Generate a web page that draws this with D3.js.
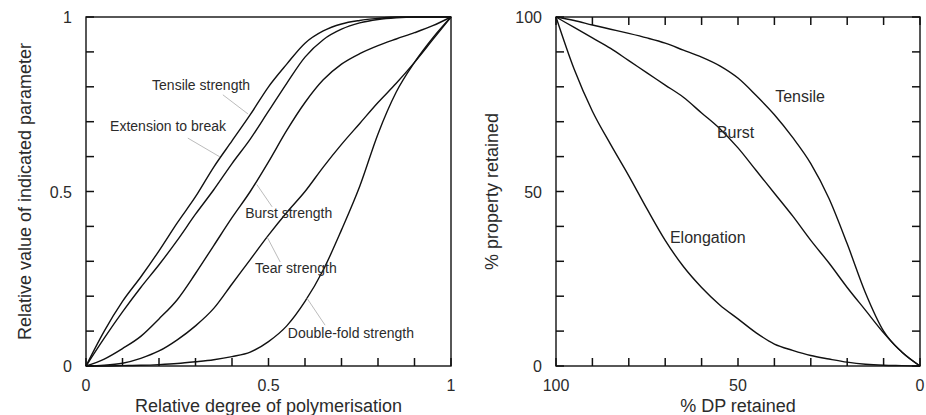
<!DOCTYPE html>
<html>
<head>
<meta charset="utf-8">
<script src="https://cdn.jsdelivr.net/npm/d3@7"></script>
<style>
  body { margin: 0; background: #fff; }
  svg { display: block; font-family: "Liberation Sans", Arial, sans-serif; }
</style>
</head>
<body>
<div id="chart"></div>
<script>
// left panel: relative DP vs relative property value
const relDP = [0, 0.05, 0.1, 0.15, 0.2, 0.25, 0.3, 0.35, 0.4, 0.45, 0.5, 0.55, 0.6, 0.65, 0.7, 0.75, 0.8, 0.85, 0.9, 0.95, 1];
const tensileStrength = [0, 0.10, 0.185, 0.255, 0.33, 0.41, 0.485, 0.57, 0.645, 0.72, 0.80, 0.865, 0.925, 0.96, 0.98, 0.99, 0.996, 1, 1, 1, 1];
const extensionToBreak = [0, 0.08, 0.155, 0.225, 0.29, 0.36, 0.435, 0.505, 0.58, 0.65, 0.73, 0.81, 0.885, 0.935, 0.965, 0.983, 0.993, 0.998, 1, 1, 1];
const burstStrength = [0, 0.02, 0.05, 0.085, 0.135, 0.19, 0.265, 0.345, 0.425, 0.50, 0.585, 0.675, 0.755, 0.82, 0.865, 0.895, 0.918, 0.937, 0.955, 0.975, 1];
const tearStrength = [0, 0.002, 0.008, 0.022, 0.043, 0.075, 0.115, 0.165, 0.235, 0.305, 0.375, 0.44, 0.50, 0.57, 0.635, 0.695, 0.755, 0.81, 0.87, 0.935, 1];
const doubleFold = [0, 0, 0.001, 0.002, 0.004, 0.007, 0.012, 0.018, 0.027, 0.04, 0.07, 0.115, 0.185, 0.275, 0.39, 0.515, 0.665, 0.785, 0.87, 0.94, 1];
const leftTicks = [0, 0.1, 0.2, 0.3, 0.4, 0.5, 0.6, 0.7, 0.8, 0.9, 1];
const leftTickLabels = [0, 0.5, 1];

// right panel: % DP retained vs % property retained
const dpRetained = [100, 95, 90, 85, 80, 75, 70, 65, 60, 55, 50, 45, 40, 35, 30, 25, 20, 15, 10, 5, 0];
const tensileRetained = [100, 99, 97.7, 96.5, 95.3, 94, 92.5, 90.5, 88.5, 86, 82.5, 77.5, 72, 65.5, 58, 48, 35, 21, 10, 4, 0];
const burstRetained = [100, 97, 94, 91, 87.5, 84, 80.5, 77, 72.5, 68, 62.5, 56, 49.5, 43, 36, 29.5, 22.5, 16, 9.5, 4, 0];
const elongationRetained = [100, 85, 73, 63.5, 54.5, 45, 36, 28.5, 22.5, 17.5, 13.5, 9.5, 6.3, 4.5, 3, 2, 1.1, 0.5, 0.2, 0.1, 0];
const rightTicks = [0, 10, 20, 30, 40, 50, 60, 70, 80, 90, 100];
const rightTickLabels = [100, 50, 0];

// curve labels, in data units: [text, x, y, leaderFrom, leaderTo]
const leftLabels = [
  ["Tensile strength", 0.181, 0.805, [0.375, 0.777], [0.444, 0.722]],
  ["Extension to break", 0.066, 0.688, [0.279, 0.653], [0.367, 0.599]],
  ["Burst strength", 0.436, 0.438, [0.51, 0.456], [0.468, 0.52]],
  ["Tear strength", 0.463, 0.281, [0.532, 0.298], [0.496, 0.37]],
  ["Double-fold strength", 0.553, 0.095, [0.655, 0.117], [0.605, 0.195]]
];
const rightLabels = [
  ["Tensile", 39.8, 77.2],
  ["Burst", 55.8, 66.8],
  ["Elongation", 68.7, 36.9]
];

const width = 926, height = 415;
const plotTop = 17, plotBottom = 366, tickLen = 8;
const textColor = "#2b2b2b";
const ink = "#111";

const svg = d3.select("#chart").append("svg")
  .attr("width", width)
  .attr("height", height);

const y = d3.scaleLinear().domain([0, 1]).range([plotBottom, plotTop]);
const x = d3.scaleLinear().domain([0, 1]).range([86, 451]);
const y2 = d3.scaleLinear().domain([0, 100]).range([plotBottom, plotTop]);
const x2 = d3.scaleLinear().domain([100, 0]).range([556, 920]);

// box with inward ticks on the chosen sides
function frame(xs, ys, ticks, sides) {
  const g = svg.append("g").attr("stroke", ink);
  const [x0, x1] = xs.range();
  const [y0, y1] = ys.range();
  g.append("rect")
    .attr("x", x0).attr("y", y1)
    .attr("width", x1 - x0).attr("height", y0 - y1)
    .attr("fill", "none").attr("stroke-width", 1.4);

  const hTicks = (yy, dir) => g.selectAll(null).data(ticks).enter().append("line")
    .attr("x1", d => xs(d)).attr("x2", d => xs(d))
    .attr("y1", yy).attr("y2", yy + dir * tickLen)
    .attr("stroke-width", 1.5);
  const vTicks = (xx, dir) => g.selectAll(null).data(ticks).enter().append("line")
    .attr("y1", d => ys(d)).attr("y2", d => ys(d))
    .attr("x1", xx).attr("x2", xx + dir * tickLen)
    .attr("stroke-width", 1.5);

  if (sides.bottom) hTicks(y0, -1);
  if (sides.top) hTicks(y1, 1);
  if (sides.left) vTicks(x0, 1);
  if (sides.right) vTicks(x1, -1);
  return g;
}

function tickText(xs, ys, vals) {
  const g = svg.append("g").attr("fill", textColor).style("font-size", "16px");
  g.selectAll(null).data(vals).enter().append("text")
    .attr("x", d => xs(d)).attr("y", 391)
    .attr("text-anchor", "middle")
    .text(d => d);
  g.selectAll(null).data(vals).enter().append("text")
    .attr("x", xs.range()[0] - 14).attr("y", d => ys(d) + 6)
    .attr("text-anchor", "end")
    .text(d => d);
}

function titles(xs, ys, xt, yt, yx) {
  const cx = (xs.range()[0] + xs.range()[1]) / 2;
  svg.append("text")
    .attr("x", cx).attr("y", 412)
    .attr("text-anchor", "middle")
    .attr("fill", textColor)
    .style("font-size", "18px")
    .text(xt);
  svg.append("text")
    .attr("transform", `translate(${yx},${(ys.range()[0] + ys.range()[1]) / 2}) rotate(-90)`)
    .attr("text-anchor", "middle")
    .attr("fill", textColor)
    .style("font-size", "18px")
    .text(yt);
}

// left panel
frame(x, y, leftTicks, { left: true, bottom: true });
tickText(x, y, leftTickLabels);
titles(x, y, "Relative degree of polymerisation", "Relative value of indicated parameter", 31);

const line = d3.line().x(d => x(d[0])).y(d => y(d[1])).curve(d3.curveMonotoneX);
[tensileStrength, extensionToBreak, burstStrength, tearStrength, doubleFold].forEach(s => {
  svg.append("path")
    .datum(relDP.map((v, i) => [v, s[i]]))
    .attr("d", line)
    .attr("fill", "none")
    .attr("stroke", ink)
    .attr("stroke-width", 1.4);
});

leftLabels.forEach(l => {
  svg.append("line")
    .attr("x1", x(l[3][0])).attr("y1", y(l[3][1]))
    .attr("x2", x(l[4][0])).attr("y2", y(l[4][1]))
    .attr("stroke", "#aaa").attr("stroke-width", 0.8);
  svg.append("text")
    .attr("x", x(l[1])).attr("y", y(l[2]))
    .attr("dy", "0.35em")
    .attr("fill", textColor)
    .style("font-size", "14px")
    .text(l[0]);
});

// right panel
frame(x2, y2, rightTicks, { left: true, bottom: true, top: true, right: true });
tickText(x2, y2, rightTickLabels);
titles(x2, y2, "% DP retained", "% property retained", 498);

const line2 = d3.line().x(d => x2(d[0])).y(d => y2(d[1])).curve(d3.curveMonotoneX);
[tensileRetained, burstRetained, elongationRetained].forEach(s => {
  svg.append("path")
    .datum(dpRetained.map((v, i) => [v, s[i]]))
    .attr("d", line2)
    .attr("fill", "none")
    .attr("stroke", ink)
    .attr("stroke-width", 1.4);
});

rightLabels.forEach(l => {
  svg.append("text")
    .attr("x", x2(l[1])).attr("y", y2(l[2]))
    .attr("dy", "0.35em")
    .attr("fill", textColor)
    .style("font-size", "16px")
    .text(l[0]);
});
</script>
</body>
</html>
